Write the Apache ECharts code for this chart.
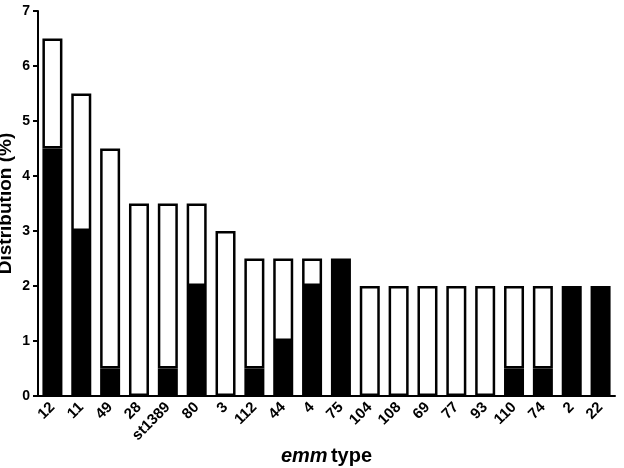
<!DOCTYPE html>
<html><head><meta charset="utf-8">
<script src="https://cdn.jsdelivr.net/npm/echarts@6/dist/echarts.min.js"></script>
<style>html,body{margin:0;padding:0;background:#fff}#c{width:624px;height:468px}</style>
</head><body><div id="c"></div>
<script>
const categories = ['12','11','49','28','st1389','80','3','112','44','4','75','104','108','69','77','93','110','74','2','22'];
const blackPart = [4.5, 3, 0.5, 0, 0.5, 2, 0, 0.5, 1, 2, 2.5, 0, 0, 0, 0, 0, 0.5, 0.5, 2, 2];
const whitePart = [2, 2.5, 4, 3.5, 3, 1.5, 3, 2, 1.5, 0.5, 0, 2, 2, 2, 2, 2, 1.5, 1.5, 0, 0];
const yTicks = [0,1,2,3,4,5,6,7];

const toData = arr => arr.map(v => v === 0 ? {value: 0, itemStyle: {borderWidth: 0, opacity: 0}} : v);

const chart = echarts.init(document.getElementById('c'));
const font = 'Liberation Sans, Arial, sans-serif';
chart.setOption({
  animation: false,
  grid: {left: 38, right: 9, top: 11, bottom: 72, containLabel: false, outerBoundsMode: 'none'},
  xAxis: {
    type: 'category', data: categories,
    axisLine: {lineStyle: {color: '#000', width: 2}},
    axisTick: {alignWithLabel: true, length: 6, lineStyle: {color: '#000', width: 2}},
    axisLabel: {rotate: 45, color: '#000', fontFamily: font, fontWeight: 'bold', fontSize: 15, margin: 9, interval: 0},
    name: '{a|emm} {b|type}', nameLocation: 'middle', nameGap: 50, nameMoveOverlap: false,
    nameTextStyle: {rich: {
      a: {fontFamily: font, fontWeight: 'bold', fontStyle: 'italic', fontSize: 20, color: '#000'},
      b: {fontFamily: font, fontWeight: 'bold', fontSize: 20, color: '#000'}
    }}
  },
  yAxis: {
    type: 'value', min: 0, max: 7, interval: 1,
    axisLine: {show: true, lineStyle: {color: '#000', width: 2}},
    axisTick: {show: true, length: 5, lineStyle: {color: '#000', width: 2}},
    splitLine: {show: false},
    axisLabel: {color: '#000', fontFamily: font, fontWeight: 'bold', fontSize: 14, margin: 8,
      formatter: v => yTicks.includes(v) ? String(v) : ''},
    name: 'Distribution (%)', nameLocation: 'middle', nameGap: 23, nameMoveOverlap: false,
    nameTextStyle: {fontFamily: font, fontWeight: 'bold', fontSize: 19, color: '#000'}
  },
  series: [
    {type: 'bar', stack: 's', data: toData(blackPart), barWidth: 20,
     itemStyle: {color: '#000', borderColor: '#000', borderWidth: 2.5}},
    {type: 'bar', stack: 's', data: toData(whitePart), barWidth: 20,
     itemStyle: {color: '#fff', borderColor: '#000', borderWidth: 2.5}}
  ]
});
</script></body></html>
